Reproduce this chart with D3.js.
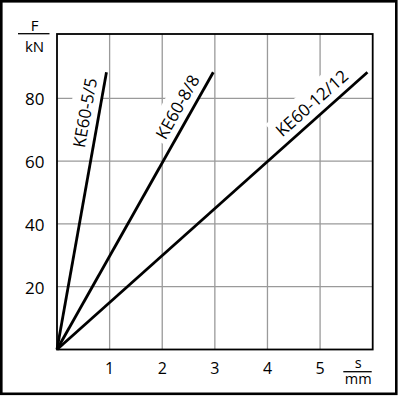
<!DOCTYPE html>
<html>
<head>
<meta charset="utf-8">
<script src="https://cdn.jsdelivr.net/npm/d3@7"></script>
<style>
  body { margin: 0; background: #fff; }
  text { font-family: "Open Sans", "Noto Sans", sans-serif; fill: #000; }
</style>
</head>
<body>
<script>
// data
var series = ["KE60-5/5", "KE60-8/8", "KE60-12/12"];
var endS = [0.94, 2.97, 5.9];      // s in mm at end of line
var endF = [88.3, 88.3, 88.3];     // F in kN at end of line
var xTicks = [1, 2, 3, 4, 5];
var yTicks = [20, 40, 60, 80];

// layout
var width = 399, height = 396;
var labelAt = [0.845, 0.85, 0.851];  // fraction along each line for its label

var x = d3.scaleLinear().domain([0, 6]).range([57, 372.7]);
var y = d3.scaleLinear().domain([0, 100.5]).range([349.5, 34]);

var svg = d3.select("body").append("svg")
    .attr("width", width)
    .attr("height", height);

svg.append("rect")
    .attr("width", width).attr("height", height)
    .attr("fill", "#fff");

// outer border
svg.append("rect")
    .attr("x", 1.3).attr("y", 1.3)
    .attr("width", 395).attr("height", 392.5)
    .attr("fill", "none")
    .attr("stroke", "#000")
    .attr("stroke-width", 2.6);

var plot = svg.append("g");

// grid
plot.selectAll(".vgrid")
    .data(xTicks)
    .enter().append("line")
    .attr("class", "vgrid")
    .attr("x1", d => x(d)).attr("x2", d => x(d))
    .attr("y1", y.range()[0]).attr("y2", y.range()[1])
    .attr("stroke", "#9a9a9a")
    .attr("stroke-width", 1.3);

plot.selectAll(".hgrid")
    .data(yTicks)
    .enter().append("line")
    .attr("class", "hgrid")
    .attr("x1", x.range()[0]).attr("x2", x.range()[1])
    .attr("y1", d => y(d)).attr("y2", d => y(d))
    .attr("stroke", "#9a9a9a")
    .attr("stroke-width", 1.3);

// labels with white knockout boxes
var lines = series.map(function (name, i) {
    var x0 = x(0), y0 = y(0), x1 = x(endS[i]), y1 = y(endF[i]);
    var ang = Math.atan2(y0 - y1, x1 - x0) * 180 / Math.PI;
    var t = labelAt[i];
    return { name: name, x0: x0, y0: y0, x1: x1, y1: y1, ang: ang,
             px: x0 + (x1 - x0) * t, py: y0 + (y1 - y0) * t };
});

var labels = plot.selectAll(".lbl")
    .data(lines)
    .enter().append("g")
    .attr("class", "lbl")
    .attr("transform", d => "translate(" + d.px + "," + d.py + ") rotate(" + (-d.ang) + ")");

var bg = labels.append("rect").attr("fill", "#fff");

labels.append("text")
    .attr("x", 0)
    .attr("y", -8)
    .attr("text-anchor", "middle")
    .style("font-size", "17px")
    .text(d => d.name);

labels.each(function () {
    var g = d3.select(this);
    var b = g.select("text").node().getBBox();
    g.select("rect")
        .attr("x", b.x - 4)
        .attr("y", b.y - 3)
        .attr("width", b.width + 8)
        .attr("height", -b.y + 3);
});

// plot frame
plot.append("rect")
    .attr("x", x.range()[0]).attr("y", y.range()[1])
    .attr("width", x.range()[1] - x.range()[0])
    .attr("height", y.range()[0] - y.range()[1])
    .attr("fill", "none")
    .attr("stroke", "#000")
    .attr("stroke-width", 1.8);

// data lines
plot.selectAll(".series")
    .data(lines)
    .enter().append("line")
    .attr("class", "series")
    .attr("x1", d => d.x0).attr("y1", d => d.y0)
    .attr("x2", d => d.x1).attr("y2", d => d.y1)
    .attr("stroke", "#000")
    .attr("stroke-width", 2.8);

// tick labels
svg.selectAll(".xt")
    .data(xTicks)
    .enter().append("text")
    .attr("class", "xt")
    .attr("x", d => x(d))
    .attr("y", 373.5)
    .attr("text-anchor", "middle")
    .style("font-size", "16px")
    .text(d => d);

svg.selectAll(".yt")
    .data(yTicks)
    .enter().append("text")
    .attr("class", "yt")
    .attr("x", 44.5)
    .attr("y", d => y(d))
    .attr("dy", "0.42em")
    .attr("text-anchor", "end")
    .style("font-size", "17px")
    .text(d => d);

// axis titles (fraction style)
function fraction(cx, top, bottom, barY, barX0, barX1, topBase, botBase, size) {
    svg.append("text").attr("x", cx).attr("y", topBase)
        .attr("text-anchor", "middle").style("font-size", size + "px").text(top);
    svg.append("line")
        .attr("x1", barX0).attr("x2", barX1)
        .attr("y1", barY).attr("y2", barY)
        .attr("stroke", "#000").attr("stroke-width", 1.3);
    svg.append("text").attr("x", cx).attr("y", botBase)
        .attr("text-anchor", "middle").style("font-size", size + "px").text(bottom);
}
fraction(34.5, "F", "kN", 33.7, 18, 49.5, 30.8, 52.3, 15);
fraction(358.3, "s", "mm", 371.7, 343.3, 371.7, 368, 383.5, 14.5);
</script>
</body>
</html>
